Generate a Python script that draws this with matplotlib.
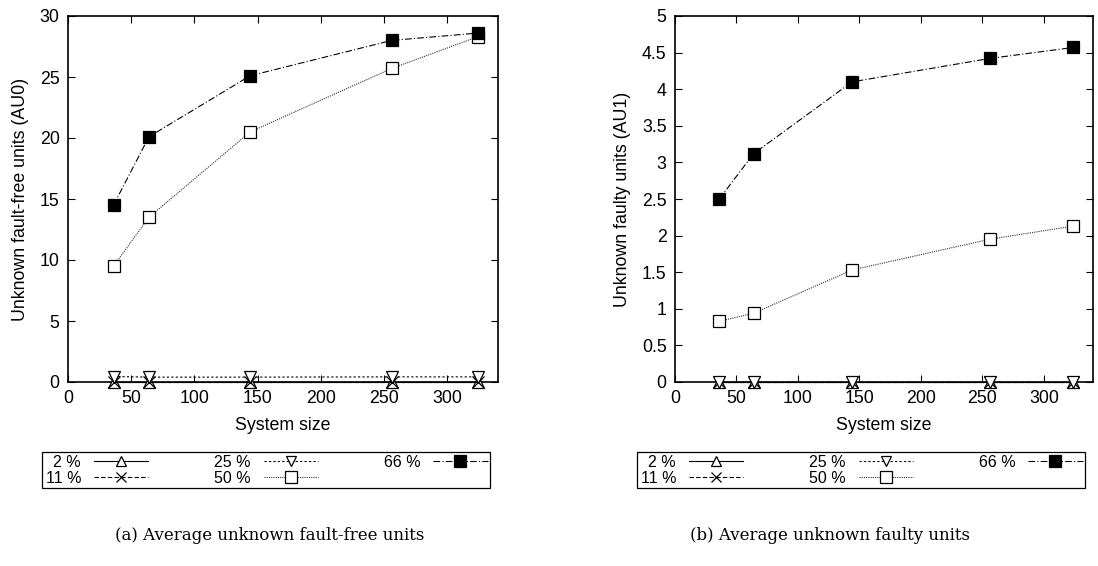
import matplotlib.pyplot as plt

# %% Data
sizes = [36, 64, 144, 256, 324]
labels = ["  2 %", "11 %", "25 %", "50 %", "66 %"]

au0_2 = [0, 0, 0, 0, 0]
au0_11 = [0, 0, 0, 0, 0]
au0_25 = [0.45, 0.4, 0.4, 0.42, 0.42]
au0_50 = [9.5, 13.5, 20.5, 25.7, 28.3]
au0_66 = [14.5, 20.1, 25.1, 28.0, 28.6]

au1_2 = [0, 0, 0, 0, 0]
au1_11 = [0, 0, 0, 0, 0]
au1_25 = [0, 0, 0, 0, 0]
au1_50 = [0.83, 0.94, 1.53, 1.95, 2.13]
au1_66 = [2.5, 3.12, 4.1, 4.42, 4.57]

# %% Styles
plt.rcParams['font.family'] = ['Liberation Sans', 'DejaVu Sans']
plt.rcParams['font.size'] = 12.8

styles = [
    dict(marker="^", mfc="white", ls="-", color="black", ms=8),
    dict(marker="x", mfc="none", ls=(0, (4, 2)), color="black", ms=8),
    dict(marker="v", mfc="white", ls=(0, (2, 2)), color="black", ms=8),
    dict(marker="s", mfc="white", ls=(0, (1, 1)), color="#333333", ms=8.5),
    dict(marker="s", mfc="black", ls=(0, (6, 2, 1, 2)), color="black", ms=9),
]


def draw(ax, series, yticks, ylabel):
    handles = []
    for ys, st, lab in zip(series, styles, labels):
        h, = ax.plot(sizes, ys, marker=st["marker"], mfc=st["mfc"], mec="black",
                     ls=st["ls"], color=st["color"], lw=0.8, ms=st["ms"], mew=0.9,
                     label=lab, clip_on=False, zorder=3)
        handles.append(h)
    ax.set_xlim(0, 340)
    ax.set_ylim(yticks[0], yticks[-1])
    ax.set_xticks([0, 50, 100, 150, 200, 250, 300])
    ax.set_yticks(yticks)
    ax.set_yticklabels([f"{v:g}" for v in yticks])
    ax.tick_params(direction="in", top=True, right=True, length=5, width=0.8)
    ax.tick_params(axis="x", pad=6)
    ax.tick_params(axis="y", pad=6)
    for s in ax.spines.values():
        s.set_linewidth(1.2)
    ax.set_xlabel("System size", labelpad=7)
    ax.set_ylabel(ylabel, labelpad=8)
    return handles


fig = plt.figure(figsize=(10.98, 5.66), dpi=100)
ax1 = fig.add_axes([68 / 1098, 184 / 566, 430 / 1098, 366 / 566])
ax2 = fig.add_axes([675 / 1098, 184 / 566, 418 / 1098, 366 / 566])

h1 = draw(ax1, [au0_2, au0_11, au0_25, au0_50, au0_66], list(range(0, 31, 5)),
          "Unknown fault-free units (AU0)")
h2 = draw(ax2, [au1_2, au1_11, au1_25, au1_50, au1_66], [i * 0.5 for i in range(11)],
          "Unknown faulty units (AU1)")

for hs, x0 in [(h1, 42), (h2, 637)]:
    leg = fig.legend(hs, labels, ncol=3, markerfirst=False, mode="expand",
                     bbox_to_anchor=(x0 / 1098, 78 / 566, 448 / 1098, 36 / 566),
                     loc="lower left", fancybox=False, edgecolor="black",
                     framealpha=1, borderpad=0.15, labelspacing=0.05,
                     handlelength=3.4, handletextpad=0.8, borderaxespad=0,
                     columnspacing=3, markerscale=0.95, fontsize=11.5)
    leg.get_frame().set_linewidth(0.9)

fig.text(270 / 1098, 1 - 535 / 566, "(a) Average unknown fault-free units",
         ha="center", va="center", family="DejaVu Serif", fontsize=12)
fig.text(830 / 1098, 1 - 535 / 566, "(b) Average unknown faulty units",
         ha="center", va="center", family="DejaVu Serif", fontsize=12)

fig.savefig("out.png", dpi=100)
